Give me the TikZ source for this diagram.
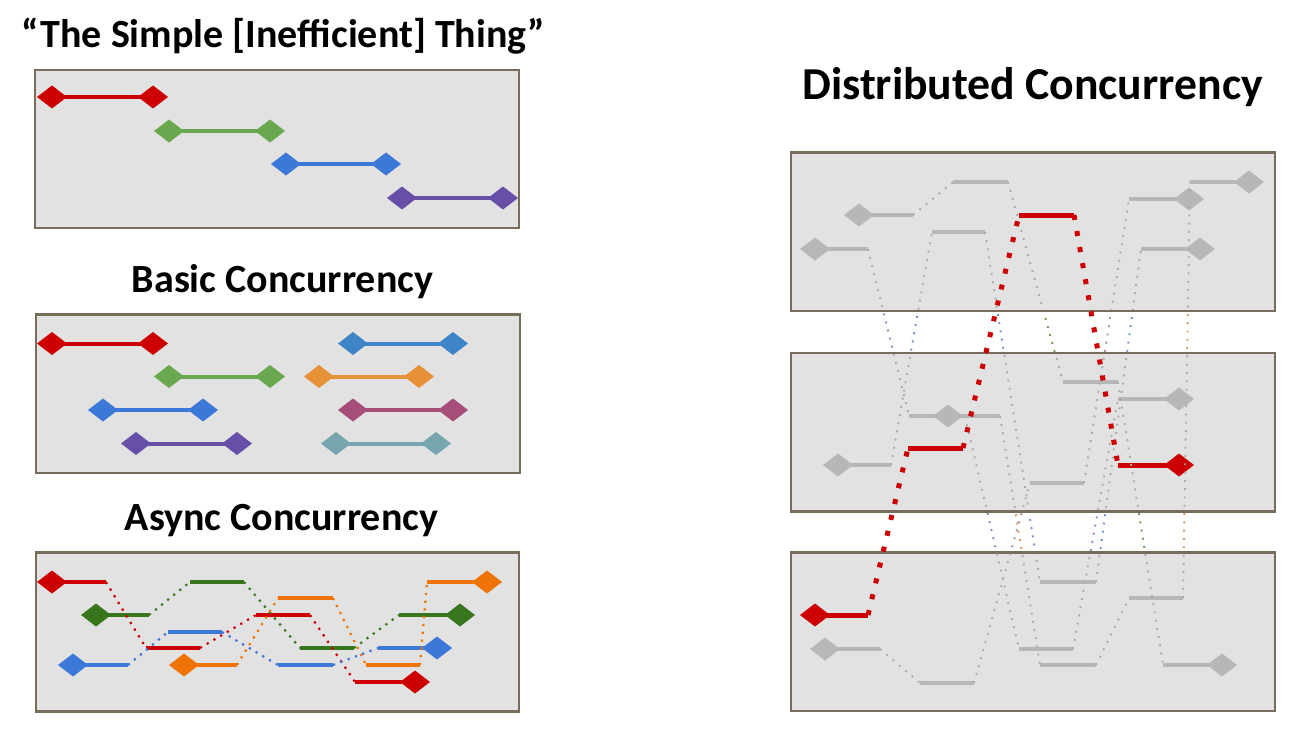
\documentclass[tikz,border=0pt]{standalone}
\usepackage{fontspec}
\setmainfont{Carlito}
\definecolor{cred}{HTML}{CC0000}
\definecolor{cgreen}{HTML}{6AA84F}
\definecolor{cblue}{HTML}{3C78D8}
\definecolor{cbluetwo}{HTML}{3D85C6}
\definecolor{cpurple}{HTML}{674EA7}
\definecolor{corange}{HTML}{E69138}
\definecolor{cmag}{HTML}{A64D79}
\definecolor{cteal}{HTML}{76A5AF}
\definecolor{dgreen}{HTML}{38761D}
\definecolor{aorange}{HTML}{EF7306}
\definecolor{gbar}{HTML}{B7B7B7}
\definecolor{dotgray}{HTML}{ABABAB}
\definecolor{boxfill}{HTML}{E2E2E2}
\definecolor{boxline}{HTML}{786D5A}
\definecolor{fa}{HTML}{9088C4}
\definecolor{fb}{HTML}{6E9A5A}
\definecolor{fc}{HTML}{6F8ED6}
\definecolor{fd}{HTML}{D8945E}
\definecolor{fe}{HTML}{B08AA6}
\newcommand\mydia[3]{\fill[#3] (#1,#2) ++(-15,0) -- ++(15,-11.5) -- ++(15,11.5) -- ++(-15,11.5) -- cycle;}
\newcommand\fullbar[4]{\draw[barln,#4] (#1,#3) -- (#2,#3); \mydia{#1}{#3}{#4}\mydia{#2}{#3}{#4}}
\newcommand\sbar[4]{\draw[barln,#4] (#1,#3) -- (#2,#3); \mydia{#1}{#3}{#4}}
\newcommand\ebar[4]{\draw[barln,#4] (#1,#3) -- (#2,#3); \mydia{#2}{#3}{#4}}
\newcommand\mysegm[4]{\draw[barln,#4] (#1,#3) -- (#2,#3);}
\newcommand\drawflows[5]{%
  \draw[gdot,#1] (868,249) -- (909,416) (965,416) -- (1019,649) (1073,649) -- (1118,399);
  \draw[gdot,#2] (913,215) -- (953,182) (1008,182) -- (1063,382) (1118,382) -- (1163,665);
  \draw[gdot,#3] (891,465) -- (932,232) (985,232) -- (1040,582) (1096,582) -- (1141,249);
  \draw[gdot,#4] (1000,416) -- (1040,665) (1096,665) -- (1129,598) (1183,598) -- (1190,182);
  \draw[gdot,#5] (880,649) -- (920,683) (974,683) -- (1030,483) (1084,483) -- (1129,199);
}
\begin{document}
\begin{tikzpicture}[x=1pt,y=-1pt,
  panel/.style={fill=boxfill, draw=boxline, line width=2.4pt},
  barln/.style={line width=4pt},
  gdot/.style={line width=1.9pt, dash pattern=on 1.9pt off 6.4pt},
  cdot/.style={line width=2.2pt, dash pattern=on 2.2pt off 5.6pt},
  rdot/.style={line width=5pt, dash pattern=on 5pt off 11.3pt, color=cred},
  ttl/.style={font=\fontsize{40}{48}\selectfont\bfseries, anchor=base, inner sep=0pt},
  bigttl/.style={ttl, font=\fontsize{45.7}{54}\selectfont\bfseries}]
\useasboundingbox (0,0) rectangle (1298,733);
\fill[white] (0,0) rectangle (1298,733);

% titles
\node[ttl] (t1) at (283.5,48) {“The Simple [Inefficient] Thing”};
\node[ttl] (t2) at (282.5,292) {Basic Concurrency};
\node[ttl] (t3) at (281.5,530) {Async Concurrency};
\node[bigttl] (t4) at (1032.5,100) {Distributed Concurrency};

% panel 1
\draw[panel] (35,70) rectangle (519,228);
\fullbar{52}{153}{97}{cred}
\fullbar{169}{270}{131}{cgreen}
\fullbar{286}{386}{164}{cblue}
\fullbar{402}{503}{198}{cpurple}

% panel 2
\draw[panel] (36,314.5) rectangle (520,473);
\fullbar{52}{153}{343.5}{cred}
\fullbar{169}{270}{376.5}{cgreen}
\fullbar{103}{203}{410}{cblue}
\fullbar{136}{237}{443.5}{cpurple}
\fullbar{353}{453}{343.5}{cbluetwo}
\fullbar{319}{419}{376.5}{corange}
\fullbar{353}{453}{410}{cmag}
\fullbar{336}{436}{443.5}{cteal}

% panel 3 (async)
\draw[panel] (36,552.5) rectangle (519,711.5);
\sbar{52}{106}{582}{cred}
\mysegm{146}{200}{648}{cred}
\mysegm{256}{310}{615}{cred}
\ebar{355}{415}{682}{cred}
\sbar{96}{149}{615}{dgreen}
\mysegm{190}{244}{582}{dgreen}
\mysegm{300}{354}{648}{dgreen}
\ebar{399}{460}{615}{dgreen}
\sbar{73}{128}{665}{cblue}
\mysegm{168}{222}{632}{cblue}
\mysegm{278}{333}{665}{cblue}
\ebar{378}{437}{648}{cblue}
\sbar{184}{237}{665}{aorange}
\mysegm{278}{333}{598}{aorange}
\mysegm{366}{420}{665}{aorange}
\ebar{427}{487}{582}{aorange}
\draw[cdot,cred] (106,582) -- (146,648) (200,648) -- (256,615) (310,615) -- (355,682);
\draw[cdot,dgreen] (149,615) -- (190,582) (244,582) -- (300,648) (354,648) -- (399,615);
\draw[cdot,cblue] (128,665) -- (168,632) (222,632) -- (278,665) (333,665) -- (378,648);
\draw[cdot,aorange] (237,665) -- (278,598) (333,598) -- (366,665) (420,665) -- (427,582);

% distributed: tinted connectors in the gaps
\drawflows{fa}{fb}{fc}{fd}{fe}
\draw[panel] (791,152.5) rectangle (1275,311);
\draw[panel] (791,353) rectangle (1275,511.5);
\draw[panel] (791,552.5) rectangle (1275,711);

% top box
\sbar{815}{868}{249}{gbar}
\sbar{859}{913}{215}{gbar}
\mysegm{953}{1008}{182}{gbar}
\mysegm{932}{985}{232}{gbar}
\ebar{1129}{1189}{199}{gbar}
\ebar{1190}{1249}{182}{gbar}
\ebar{1141}{1200}{249}{gbar}
\draw[barln,line width=5pt,cred] (1019,215) -- (1074,215);
% middle box
\sbar{838}{891}{465}{gbar}
\mysegm{909}{965}{416}{gbar}
\sbar{948}{1000}{416}{gbar}
\mysegm{1063}{1118}{382}{gbar}
\ebar{1118}{1179}{399}{gbar}
\mysegm{1030}{1084}{483}{gbar}
\draw[barln,line width=5pt,cred] (908,448) -- (963,448);
\draw[barln,line width=5pt,cred] (1118,465) -- (1179,465); \mydia{1179}{465}{cred}
% bottom box
\sbar{825}{880}{649}{gbar}
\mysegm{920}{974}{683}{gbar}
\mysegm{1040}{1096}{582}{gbar}
\mysegm{1019}{1073}{649}{gbar}
\mysegm{1040}{1096}{665}{gbar}
\mysegm{1129}{1183}{598}{gbar}
\ebar{1163}{1222}{665}{gbar}
\draw[barln,line width=5pt,cred] (815,615) -- (868,615); \mydia{815}{615}{cred}

% gray connectors inside boxes
\begin{scope}
\clip (792,153.7) rectangle (1274,309.8) (792,354.2) rectangle (1274,510.3) (792,553.7) rectangle (1274,709.8);
\drawflows{dotgray}{dotgray}{dotgray}{dotgray}{dotgray}
\end{scope}
\draw[rdot] (868,615) -- (908,448) (963,448) -- (1019,215) (1074,215) -- (1118,465);
\end{tikzpicture}
\end{document}
